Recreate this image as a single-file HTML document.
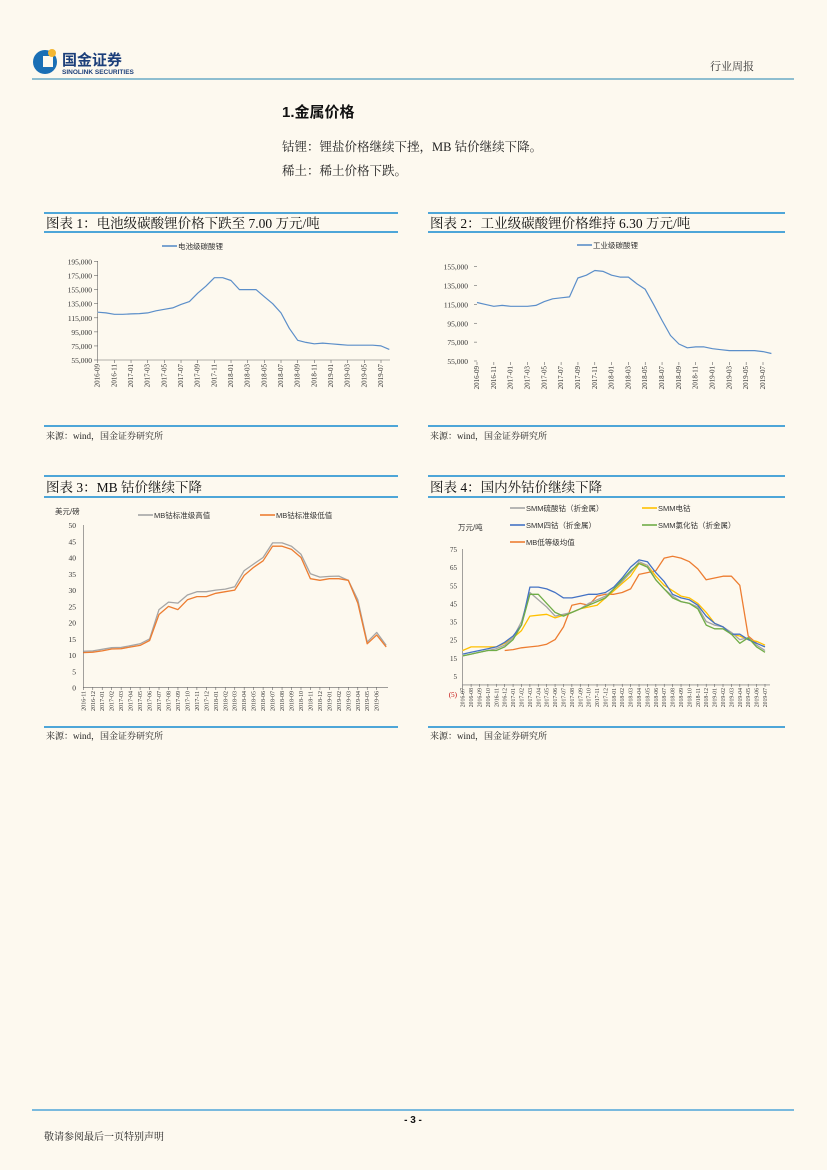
<!DOCTYPE html>
<html><head><meta charset="utf-8">
<style>
html,body{margin:0;padding:0;background:#fdf9ef;}
svg{display:block;font-family:"Liberation Serif","Noto Serif CJK SC",serif;}
.s{font-family:"Liberation Sans","Noto Sans CJK SC",sans-serif;}
</style></head><body>
<svg id="page" width="827" height="1170" viewBox="0 0 827 1170" xmlns="http://www.w3.org/2000/svg">
<rect width="827" height="1170" fill="#fdf9ef"/>
<!-- header -->
<g>
<circle cx="45" cy="62" r="12" fill="#1a6fb5"/>
<rect x="43" y="56" width="10" height="11" fill="#fdf9ef"/>
<circle cx="52" cy="53" r="4" fill="#f2b632"/>
<text x="62" y="65" class="s" font-size="15" font-weight="bold" fill="#1c3f7a">国金证券</text>
<text x="62" y="74" class="s" font-size="6.5" font-weight="bold" fill="#1c3f7a">SINOLINK SECURITIES</text>
</g>
<text x="710" y="70" font-size="11" fill="#333">行业周报</text>
<line x1="32" y1="79" x2="794" y2="79" stroke="#6aaac6" stroke-width="1.5"/>
<text x="282" y="117" font-size="15" font-weight="bold" fill="#111" class="s">1.金属价格</text>
<text x="282" y="151" font-size="12.5" fill="#222">钴锂：锂盐价格继续下挫，MB 钴价继续下降。</text>
<text x="282" y="175" font-size="12.5" fill="#222">稀土：稀土价格下跌。</text>
<!-- chart frames -->
<g stroke="#4ea6d8" stroke-width="2">
<line x1="44" y1="213" x2="398" y2="213"/><line x1="44" y1="232" x2="398" y2="232"/><line x1="44" y1="426" x2="398" y2="426"/>
<line x1="428" y1="213" x2="785" y2="213"/><line x1="428" y1="232" x2="785" y2="232"/><line x1="428" y1="426" x2="785" y2="426"/>
<line x1="44" y1="476" x2="398" y2="476"/><line x1="44" y1="497" x2="398" y2="497"/><line x1="44" y1="727" x2="398" y2="727"/>
<line x1="428" y1="476" x2="785" y2="476"/><line x1="428" y1="497" x2="785" y2="497"/><line x1="428" y1="727" x2="785" y2="727"/>
</g>
<text x="46" y="228" font-size="13.5" fill="#111">图表 1：电池级碳酸锂价格下跌至 7.00 万元/吨</text>
<text x="430" y="228" font-size="13.5" fill="#111">图表 2：工业级碳酸锂价格维持 6.30 万元/吨</text>
<text x="46" y="492" font-size="13.5" fill="#111">图表 3：MB 钴价继续下降</text>
<text x="430" y="492" font-size="13.5" fill="#111">图表 4：国内外钴价继续下降</text>
<text x="46" y="439" font-size="9" fill="#222">来源：wind，国金证券研究所</text>
<text x="430" y="439" font-size="9" fill="#222">来源：wind，国金证券研究所</text>
<text x="46" y="739" font-size="9" fill="#222">来源：wind，国金证券研究所</text>
<text x="430" y="739" font-size="9" fill="#222">来源：wind，国金证券研究所</text>
<g id="charts"></g>
<!-- footer -->
<line x1="32" y1="1110" x2="794" y2="1110" stroke="#4ea6d8" stroke-width="1.5"/>
<text x="413" y="1123" text-anchor="middle" class="s" font-size="10" font-weight="bold" fill="#111">- 3 -</text>
<text x="44" y="1140" font-size="10" fill="#222">敬请参阅最后一页特别声明</text>
</svg>
<script>
// ---- data ----
const c1Ticks=["2016-09","2016-11","2017-01","2017-03","2017-05","2017-07","2017-09","2017-11","2018-01","2018-03","2018-05","2018-07","2018-09","2018-11","2019-01","2019-03","2019-05","2019-07"];
const c1YTicks=[195000,175000,155000,135000,115000,95000,75000,55000];
const c1Battery=[123000,122000,120000,120000,120500,121000,122000,125000,127000,129000,134000,138000,150000,160000,172000,172000,168000,155000,155000,155000,145000,135000,122000,100000,83000,80000,78000,79000,78000,77000,76000,76000,76000,76000,75000,70000];
const c2Ticks=c1Ticks;
const c2YTicks=[155000,135000,115000,95000,75000,55000];
const c2Industrial=[117000,115000,113000,114000,113000,113000,113000,114000,118000,121000,122000,123000,143000,146000,151000,150000,146000,144000,144000,137000,131000,115000,98000,82000,73000,69000,70000,70000,68000,67000,66000,66000,66000,66000,65000,63000];
const c3Ticks=["2016-11","2016-12","2017-01","2017-02","2017-03","2017-04","2017-05","2017-06","2017-07","2017-08","2017-09","2017-10","2017-11","2017-12","2018-01","2018-02","2018-03","2018-04","2018-05","2018-06","2018-07","2018-08","2018-09","2018-10","2018-11","2018-12","2019-01","2019-02","2019-03","2019-04","2019-05","2019-06"];
const c3YTicks=[50,45,40,35,30,25,20,15,10,5,0];
const c3High=[11.2,11.3,11.8,12.3,12.4,12.9,13.5,15,24,26.3,26,28.5,29.5,29.5,30,30.3,31,36,38,40,44.5,44.5,43.5,41,35,34,34.2,34.3,33,27,14,17,13];
const c3Low=[10.8,10.9,11.3,11.9,12,12.5,13,14.5,22.5,25,24,27,28,28,29,29.5,30,34.5,37,39,43.5,43.5,42.5,40,33.5,33,33.5,33.5,33,26,13.5,16.2,12.5];
const c4Ticks=["2016-07","2016-08","2016-09","2016-10","2016-11","2016-12","2017-01","2017-02","2017-03","2017-04","2017-05","2017-06","2017-07","2017-08","2017-09","2017-10","2017-11","2017-12","2018-01","2018-02","2018-03","2018-04","2018-05","2018-06","2018-07","2018-08","2018-09","2018-10","2018-11","2018-12","2019-01","2019-02","2019-03","2019-04","2019-05","2019-06","2019-07"];
const c4YTicks=[75,65,55,45,35,25,15,5,-5];
const c4Sulfate=[16,17,18,19,20,22,26,35,51,47,43,38,39,40,42,45,47,49,53,57,62,68,66,58,53,49,46,45,43,35,33,32,29,25,26,22,19];
const c4Cathode=[19,21,21,21,21,23,26,30,38,38.5,39,37,38.5,40,42,43,44,48,52,56,60,67,66,60,55,52,49,48,45,40,34,32,28,27,25,24,22];
const c4Tetroxide=[17,18,19,20,21,23.5,27,33,54,54,53,51,48,48,49,50,50,51,54,59,65,69,68,62,57,50,48,47,44,38,34,32,28,28,25,23,21];
const c4Chloride=[16,17,18,19,19,21,25,33,50,50,45,40,38,40,42,44,46,48,53,58,63,67,65,58,53,48,46,45,42,33,31,31,28,23,26,21,18];
const c4MB=[null,null,null,null,null,19,19.5,20.5,21,21.5,22.5,25,32,44,45,44,49,50,50,51,53,61,62,63,70,71,70,68,64,58,59,60,60,55,27,23,null];

const NS="http://www.w3.org/2000/svg";
const root=document.getElementById('charts');
function mk(tag,attrs,parent){const e=document.createElementNS(NS,tag);for(const k in attrs)e.setAttribute(k,attrs[k]);(parent||root).appendChild(e);return e;}
function fmt(v){return v.toLocaleString('en-US');}
function scale(d0,d1,r0,r1){return v=>r0+(v-d0)/(d1-d0)*(r1-r0);}
function line(g,vals,xf,yf,color,w,name){
  let d="",pen=false;
  vals.forEach((v,i)=>{if(v===null){pen=false;return;}d+=(pen?"L":"M")+xf(i).toFixed(1)+" "+yf(v).toFixed(1);pen=true;});
  const p=mk('path',{d:d,fill:"none",stroke:color,"stroke-width":w,"stroke-linejoin":"round"},g);
  
  
}
function xLabels(g,ticks,xf,y,step,fs){
  ticks.forEach((t,i)=>{const x=xf(i*step);
    const tx=mk('text',{x:0,y:0,"font-size":fs,fill:"#333","text-anchor":"end",transform:`translate(${x+2},${y}) rotate(-90)`},g);
    tx.textContent=t;
    
    
    mk('line',{x1:x,y1:y-4,x2:x,y2:y-1,stroke:"#666","stroke-width":0.6},g);
  });
}
function yLabels(g,ticks,yf,x,fs,fmtf,color){
  ticks.forEach(t=>{const tx=mk('text',{x:x,y:yf(t)+3,"font-size":fs,fill:(color&&t<0)?color:"#333","text-anchor":"end"},g);
    tx.textContent=fmtf(t);
    
    });
}
function legend(g,x,y,color,label,name){
  mk('line',{x1:x,y1:y,x2:x+15,y2:y,stroke:color,"stroke-width":1.6},g);
  const t=mk('text',{x:x+16,y:y+3,"font-size":7.5,fill:"#333",class:"s"},g);
  t.textContent=label;
  
  
}
// chart 1
(function(){
  const g=mk('g',{});
  
  
  const x=scale(0,34,97.7,381),y=scale(55000,195000,360,261.5);
  mk('line',{x1:97.7,y1:261,x2:97.7,y2:360,stroke:"#666","stroke-width":0.6},g);
  mk('line',{x1:97.7,y1:360,x2:390,y2:360,stroke:"#666","stroke-width":0.6},g);
  c1YTicks.forEach(t=>mk('line',{x1:94,y1:y(t),x2:97.7,y2:y(t),stroke:"#666","stroke-width":0.6},g));
  yLabels(g,c1YTicks,y,92,7.5,fmt);
  xLabels(g,c1Ticks,x,364,2,7);
  line(g,c1Battery,x,y,"#5b8ec9",1.2,"battery-lithium-line");
  legend(g,162,246,"#5b8ec9","电池级碳酸锂","legend-battery-lithium");
})();
// chart 2
(function(){
  const g=mk('g',{});
  
  
  const x=scale(0,34,477,763),y=scale(55000,155000,361,266.7);
  c2YTicks.forEach(t=>mk('line',{x1:474,y1:y(t),x2:477,y2:y(t),stroke:"#666","stroke-width":0.6},g));
  yLabels(g,c2YTicks,y,468,7.5,fmt);
  xLabels(g,c2Ticks,x,366,2,7);
  line(g,c2Industrial,x,y,"#5b8ec9",1.2,"industrial-lithium-line");
  legend(g,577,245,"#5b8ec9","工业级碳酸锂","legend-industrial-lithium");
})();
// chart 3
(function(){
  const g=mk('g',{});
  
  
  const x=scale(0,31,83.3,376.7),y=scale(0,50,687.7,525);
  mk('line',{x1:83.3,y1:525,x2:83.3,y2:687.7,stroke:"#666","stroke-width":0.6},g);
  mk('line',{x1:83.3,y1:687.7,x2:388,y2:687.7,stroke:"#666","stroke-width":0.6},g);
  yLabels(g,c3YTicks,y,76,7.5,v=>String(v));
  xLabels(g,c3Ticks,x,691,1,6);
  line(g,c3High,x,y,"#a5a5a5",1.3,"mb-cobalt-high-line");
  line(g,c3Low,x,y,"#ed7d31",1.3,"mb-cobalt-low-line");
  const u=mk('text',{x:55,y:514,"font-size":7.5,fill:"#333",class:"s"},g);u.textContent="美元/磅";
  
  
  legend(g,138,515,"#a5a5a5","MB钴标准级高值","legend-mb-high");
  legend(g,260,515,"#ed7d31","MB钴标准级低值","legend-mb-low");
})();
// chart 4
(function(){
  const g=mk('g',{});
  
  
  const x=scale(0,36,462.7,765),y=scale(-5,75,694,549);
  mk('line',{x1:462.7,y1:549,x2:462.7,y2:694,stroke:"#666","stroke-width":0.6},g);
  mk('line',{x1:462.7,y1:y(0),x2:770,y2:y(0),stroke:"#666","stroke-width":0.6},g);
  yLabels(g,c4YTicks,y,457,7,v=>v<0?"("+(-v)+")":String(v),"#c00000");
  xLabels(g,c4Ticks,x,y(0)+3,1,5.8);
  line(g,c4MB,x,y,"#ed7d31",1.3,"mb-low-grade-line");
  line(g,c4Cathode,x,y,"#ffc000",1.3,"smm-cathode-line");
  line(g,c4Sulfate,x,y,"#a5a5a5",1.3,"smm-sulfate-line");
  line(g,c4Tetroxide,x,y,"#4472c4",1.3,"smm-tetroxide-line");
  line(g,c4Chloride,x,y,"#70ad47",1.3,"smm-chloride-line");
  const u=mk('text',{x:458,y:530,"font-size":7.5,fill:"#333",class:"s"},g);u.textContent="万元/吨";
  
  
  legend(g,510,508,"#a5a5a5","SMM硫酸钴（折金属）","legend-smm-sulfate");
  legend(g,642,508,"#ffc000","SMM电钴","legend-smm-cathode");
  legend(g,510,525,"#4472c4","SMM四钴（折金属）","legend-smm-tetroxide");
  legend(g,642,525,"#70ad47","SMM氯化钴（折金属）","legend-smm-chloride");
  legend(g,510,542,"#ed7d31","MB低等级均值","legend-mb-low-grade");
})();
</script>
</body></html>
